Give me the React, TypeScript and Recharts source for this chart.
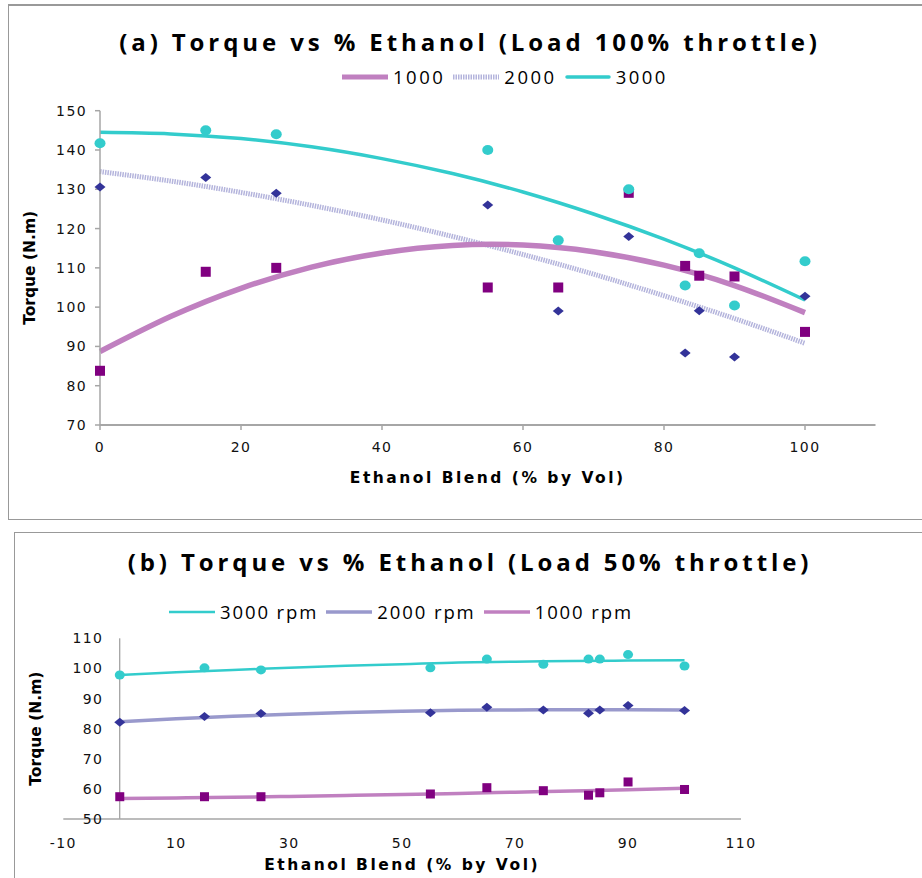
import React from 'react';
import { ComposedChart, Line, Scatter, XAxis, YAxis, ReferenceLine } from 'recharts';

// ---- data ----
const ethanolPct = [0, 15, 25, 55, 65, 75, 83, 85, 90, 100];
const trendPct = [0, 10, 20, 30, 40, 50, 60, 70, 80, 90, 100];

// (a) 100% throttle measured torque
const full1000 = [83.8, 109, 110, 105, 105, 129.1, 110.5, 108, 107.8, 93.7];
const full2000 = [130.6, 133, 129, 126, 99, 118, 88.3, 99.1, 87.3, 102.8];
const full3000 = [141.7, 145, 144, 140, 117, 130, 105.5, 113.7, 100.4, 111.7];
// (a) trend lines read at trendPct
const fullTrend1000 = [88.7, 97.6, 104.8, 110.2, 113.8, 115.7, 115.8, 114.1, 110.7, 105.5, 98.6];
const fullTrend2000 = [134.5, 132.1, 129.2, 125.9, 122.2, 118.0, 113.4, 108.4, 102.9, 97.1, 90.8];
const fullTrend3000 = [144.5, 144.1, 142.9, 140.8, 137.8, 134.0, 129.3, 123.7, 117.3, 110.0, 101.8];

// (b) 50% throttle measured torque
const half3000 = [97.8, 100.2, 99.5, 100.2, 103.1, 101.4, 103.1, 103.1, 104.6, 100.8];
const half2000 = [82.1, 84.0, 85.0, 85.3, 87.1, 86.2, 85.1, 86.2, 87.7, 86.0];
const half1000 = [57.4, 57.4, 57.4, 58.3, 60.4, 59.4, 57.9, 58.7, 62.3, 59.8];
const halfTrend3000 = [97.8, 98.7, 99.5, 100.2, 100.9, 101.4, 102.0, 102.2, 102.5, 102.6, 102.7];
const halfTrend2000 = [82.3, 83.3, 84.1, 84.8, 85.4, 85.8, 86.1, 86.2, 86.3, 86.3, 86.2];
const halfTrend1000 = [56.8, 57.0, 57.2, 57.5, 57.8, 58.1, 58.5, 58.9, 59.3, 59.7, 60.2];

const fullTicksX = [0, 20, 40, 60, 80, 100];
const fullTicksY = [70, 80, 90, 100, 110, 120, 130, 140, 150];
const halfTicksX = [-10, 10, 30, 50, 70, 90, 110];
const halfTicksY = [50, 60, 70, 80, 90, 100, 110];

const fullLegend = ['1000', '2000', '3000'];
const halfLegend = ['3000 rpm', '2000 rpm', '1000 rpm'];

const titleA = '(a) Torque vs % Ethanol (Load 100% throttle)';
const titleB = '(b) Torque vs % Ethanol (Load 50% throttle)';
const xTitle = 'Ethanol Blend (% by Vol)';
const yTitle = 'Torque (N.m)';

// ---- helpers ----
const zip = (xs: number[], ys: number[]) => xs.map((x, i) => ({ x, y: ys[i] }));

const C_PURPLE = '#800080';
const C_NAVY = '#333399';
const C_CYAN = '#33CCCC';
const C_PINK = '#C080C0';
const C_LAV = '#B4B4DC';
const C_LAV2 = '#9999CC';
const AXIS = '#A6A6A6';

const tickFont = { fontFamily: 'DejaVu Sans', fontSize: 14, fill: '#111', letterSpacing: 1.4 };
const axisTitleStyle = { fontFamily: 'DejaVu Sans', fontSize: 15.5, fontWeight: 700, fill: '#000' };

const Square = (size: number) => (p: any) => (
  <rect x={p.cx - size / 2} y={p.cy - size / 2} width={size} height={size} fill={C_PURPLE} />
);
const Diamond = (w: number, h: number) => (p: any) => (
  <polygon
    points={`${p.cx},${p.cy - h / 2} ${p.cx + w / 2},${p.cy} ${p.cx},${p.cy + h / 2} ${p.cx - w / 2},${p.cy}`}
    fill={C_NAVY}
  />
);
const Dot = (rx: number, ry: number) => (p: any) => (
  <ellipse cx={p.cx} cy={p.cy} rx={rx} ry={ry} fill={C_CYAN} />
);

const titleStyle: React.CSSProperties = {
  position: 'absolute',
  left: 9,
  width: 922,
  textAlign: 'center',
  fontFamily: '"Open Sans", sans-serif',
  fontWeight: 700,
  fontSize: 24,
  letterSpacing: 3.9,
  color: '#000',
  whiteSpace: 'nowrap',
  lineHeight: '28px',
};

const legendText: React.CSSProperties = {
  fontFamily: '"Open Sans", sans-serif',
  fontSize: 18.5,
  letterSpacing: 2.5,
  color: '#000',
  lineHeight: '24px',
};

function LegendSample({ kind }: { kind: string }) {
  const w = 46;
  let line: React.ReactNode = null;
  if (kind === 'p1000') line = <line x1={0} y1={5} x2={w} y2={5} stroke={C_PINK} strokeWidth={5} />;
  if (kind === 'p2000')
    line = <line x1={0} y1={5} x2={w} y2={5} stroke={C_LAV} strokeWidth={5} strokeDasharray="1.5 1" />;
  if (kind === 'p3000')
    line = <line x1={2} y1={5} x2={w - 2} y2={5} stroke={C_CYAN} strokeWidth={3.5} strokeLinecap="round" />;
  if (kind === 'h3000') line = <line x1={0} y1={5} x2={w} y2={5} stroke={C_CYAN} strokeWidth={2.5} />;
  if (kind === 'h2000') line = <line x1={0} y1={5} x2={w} y2={5} stroke={C_LAV2} strokeWidth={3.5} />;
  if (kind === 'h1000') line = <line x1={0} y1={5} x2={w} y2={5} stroke={C_PINK} strokeWidth={3.5} />;
  return (
    <svg width={w} height={10} style={{ display: 'block' }}>
      {line}
    </svg>
  );
}

const HalfYTick = (props: any) => (
  <text
    x={props.x + 40}
    y={props.y}
    textAnchor="end"
    dominantBaseline="central"
    fontFamily="DejaVu Sans"
    fontSize={14}
    letterSpacing={1.4}
    fill="#111"
  >
    {props.payload.value}
  </text>
);

export default function App() {
  const fullKinds = ['p1000', 'p2000', 'p3000'];
  const halfKinds = ['h3000', 'h2000', 'h1000'];
  return (
    <div style={{ position: 'absolute', left: 0, top: 0, width: 922, height: 878, overflow: 'hidden', background: '#fff' }}>
      {/* frames */}
      <div
        style={{
          position: 'absolute',
          left: 8,
          top: 4,
          width: 960,
          height: 513,
          borderLeft: '1.5px solid #999',
          borderTop: '2px solid #999',
          borderBottom: '1.5px solid #999',
        }}
      />
      <div
        style={{
          position: 'absolute',
          left: 14,
          top: 532,
          width: 960,
          height: 400,
          borderLeft: '1.5px solid #999',
          borderTop: '1.5px solid #999',
        }}
      />

      {/* ---------- chart (a) ---------- */}
      <div style={{ position: 'absolute', left: 0, top: 0 }}>
        <ComposedChart width={922} height={519} margin={{ top: 110.7, right: 46.5, bottom: 29, left: 30 }}>
          <XAxis
            type="number"
            dataKey="x"
            domain={[0, 110]}
            ticks={fullTicksX}
            height={65}
            axisLine={{ stroke: AXIS, strokeWidth: 2 }}
            tickLine={{ stroke: AXIS, strokeWidth: 1.5 }}
            tickSize={5}
            tickMargin={12}
            tick={tickFont}
            label={{ value: xTitle, position: 'insideBottom', offset: 7, style: { ...axisTitleStyle, letterSpacing: 2.5 } }}
          />
          <YAxis
            type="number"
            dataKey="y"
            domain={[70, 150]}
            ticks={fullTicksY}
            width={70}
            axisLine={{ stroke: AXIS, strokeWidth: 1.5 }}
            tickLine={{ stroke: AXIS, strokeWidth: 1.5 }}
            tickSize={5}
            tickMargin={8}
            tick={tickFont}
            label={{
              value: yTitle,
              angle: -90,
              position: 'insideLeft',
              offset: 0,
              style: { ...axisTitleStyle, textAnchor: 'middle' },
            }}
          />
          <Scatter data={zip(ethanolPct, full1000)} dataKey="y" shape={Square(10)} isAnimationActive={false} />
          <Scatter data={zip(ethanolPct, full2000)} dataKey="y" shape={Diamond(11, 9)} isAnimationActive={false} />
          <Scatter data={zip(ethanolPct, full3000)} dataKey="y" shape={Dot(5.5, 5)} isAnimationActive={false} />
          <Line
            data={zip(trendPct, fullTrend2000)}
            dataKey="y"
            type="natural"
            stroke={C_LAV}
            strokeWidth={5}
            strokeDasharray="1.5 1"
            dot={false}
            activeDot={false}
            isAnimationActive={false}
          />
          <Line
            data={zip(trendPct, fullTrend1000)}
            dataKey="y"
            type="natural"
            stroke={C_PINK}
            strokeWidth={5.5}
            dot={false}
            activeDot={false}
            isAnimationActive={false}
          />
          <Line
            data={zip(trendPct, fullTrend3000)}
            dataKey="y"
            type="natural"
            stroke={C_CYAN}
            strokeWidth={3.5}
            dot={false}
            activeDot={false}
            isAnimationActive={false}
          />
        </ComposedChart>
      </div>
      <div style={{ ...titleStyle, top: 28 }}>{titleA}</div>
      <div style={{ position: 'absolute', left: 342, top: 65, display: 'flex', alignItems: 'center' }}>
        {fullLegend.map((name, i) => (
          <div key={name} style={{ display: 'flex', alignItems: 'center', marginRight: 8 }}>
            <LegendSample kind={fullKinds[i]} />
            <span style={{ ...legendText, marginLeft: 5 }}>{name}</span>
          </div>
        ))}
      </div>

      {/* ---------- chart (b) ---------- */}
      <div style={{ position: 'absolute', left: 0, top: 532 }}>
        <ComposedChart width={922} height={346} margin={{ top: 106.3, right: 181, bottom: 4, left: 13.3 }}>
          <XAxis
            type="number"
            dataKey="x"
            domain={[-10, 110]}
            ticks={halfTicksX}
            height={55}
            axisLine={{ stroke: AXIS, strokeWidth: 1.5 }}
            tickLine={false}
            tickSize={0}
            tickMargin={19}
            tick={tickFont}
            label={{ value: xTitle, position: 'insideBottom', offset: 4, style: { ...axisTitleStyle, letterSpacing: 2.5 } }}
          />
          <YAxis
            type="number"
            dataKey="y"
            domain={[50, 110]}
            ticks={halfTicksY}
            width={50}
            axisLine={false}
            tickLine={false}
            tickSize={0}
            tickMargin={0}
            tick={HalfYTick}
            label={{
              value: yTitle,
              angle: -90,
              position: 'insideLeft',
              offset: 22,
              style: { ...axisTitleStyle, textAnchor: 'middle' },
            }}
          />
          <ReferenceLine x={0} stroke="#888" strokeWidth={1} />
          <Line
            data={zip(trendPct, halfTrend3000)}
            dataKey="y"
            type="natural"
            stroke={C_CYAN}
            strokeWidth={2.5}
            dot={false}
            activeDot={false}
            isAnimationActive={false}
          />
          <Line
            data={zip(trendPct, halfTrend2000)}
            dataKey="y"
            type="natural"
            stroke={C_LAV2}
            strokeWidth={3.5}
            dot={false}
            activeDot={false}
            isAnimationActive={false}
          />
          <Line
            data={zip(trendPct, halfTrend1000)}
            dataKey="y"
            type="natural"
            stroke={C_PINK}
            strokeWidth={3.5}
            dot={false}
            activeDot={false}
            isAnimationActive={false}
          />
          <Scatter data={zip(ethanolPct, half3000)} dataKey="y" shape={Dot(5, 4.5)} isAnimationActive={false} />
          <Scatter data={zip(ethanolPct, half2000)} dataKey="y" shape={Diamond(11, 9)} isAnimationActive={false} />
          <Scatter data={zip(ethanolPct, half1000)} dataKey="y" shape={Square(9)} isAnimationActive={false} />
        </ComposedChart>
      </div>
      <div style={{ ...titleStyle, top: 548 }}>{titleB}</div>
      <div style={{ position: 'absolute', left: 169, top: 600, display: 'flex', alignItems: 'center' }}>
        {halfLegend.map((name, i) => (
          <div key={name} style={{ display: 'flex', alignItems: 'center', marginRight: 8 }}>
            <LegendSample kind={halfKinds[i]} />
            <span style={{ ...legendText, letterSpacing: 1.9, marginLeft: 5 }}>{name}</span>
          </div>
        ))}
      </div>
    </div>
  );
}
